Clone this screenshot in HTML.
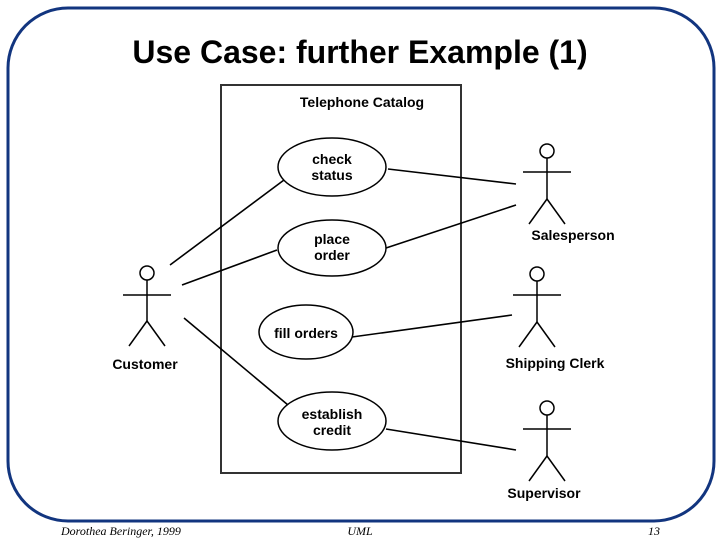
<!DOCTYPE html>
<html><head><style>body{margin:0;background:#fff}</style></head><body>
<svg width="720" height="540" xmlns="http://www.w3.org/2000/svg" font-family="Liberation Sans, sans-serif">
<rect x="8" y="8" width="706" height="513" rx="60" fill="none" stroke="#12357f" stroke-width="3"/>
<text x="360" y="63" font-size="32" font-weight="bold" text-anchor="middle" fill="#000">Use Case: further Example (1)</text>
<rect x="221" y="85" width="240" height="388" fill="none" stroke="#333" stroke-width="2"/>
<text x="362" y="107" font-size="14" font-weight="bold" text-anchor="middle">Telephone Catalog</text>
<g fill="#fff" stroke="#000" stroke-width="1.5">
<ellipse cx="332" cy="167" rx="54" ry="29"/>
<ellipse cx="332" cy="248" rx="54" ry="28"/>
<ellipse cx="306" cy="332" rx="47" ry="27"/>
<ellipse cx="332" cy="421" rx="54" ry="29"/>
</g>
<g font-size="14" font-weight="bold" text-anchor="middle">
<text x="332" y="164">check</text><text x="332" y="180">status</text>
<text x="332" y="244">place</text><text x="332" y="260">order</text>
<text x="306" y="338">fill orders</text>
<text x="332" y="419">establish</text><text x="332" y="435">credit</text>
</g>
<g stroke="#000" stroke-width="1.6" fill="none">
<line x1="170" y1="265" x2="284" y2="180"/>
<line x1="182" y1="285" x2="277" y2="250"/>
<line x1="184" y1="318" x2="288" y2="405"/>
<line x1="388" y1="169" x2="516" y2="184"/>
<line x1="386" y1="248" x2="516" y2="205"/>
<line x1="352" y1="337" x2="512" y2="315"/>
<line x1="386" y1="429" x2="516" y2="450"/>
</g>
<g stroke="#000" stroke-width="1.5" fill="#fff">
<g transform="translate(147,273)"><circle cx="0" cy="0" r="7"/><line x1="-24" y1="22" x2="24" y2="22"/><line x1="0" y1="7" x2="0" y2="48"/><line x1="0" y1="48" x2="-18" y2="73"/><line x1="0" y1="48" x2="18" y2="73"/></g>
<g transform="translate(547,151)"><circle cx="0" cy="0" r="7"/><line x1="-24" y1="21" x2="24" y2="21"/><line x1="0" y1="7" x2="0" y2="48"/><line x1="0" y1="48" x2="-18" y2="73"/><line x1="0" y1="48" x2="18" y2="73"/></g>
<g transform="translate(537,274)"><circle cx="0" cy="0" r="7"/><line x1="-24" y1="21" x2="24" y2="21"/><line x1="0" y1="7" x2="0" y2="48"/><line x1="0" y1="48" x2="-18" y2="73"/><line x1="0" y1="48" x2="18" y2="73"/></g>
<g transform="translate(547,408)"><circle cx="0" cy="0" r="7"/><line x1="-24" y1="21" x2="24" y2="21"/><line x1="0" y1="7" x2="0" y2="48"/><line x1="0" y1="48" x2="-18" y2="73"/><line x1="0" y1="48" x2="18" y2="73"/></g>
</g>
<g font-size="14" font-weight="bold" text-anchor="middle">
<text x="145" y="369">Customer</text>
<text x="573" y="240">Salesperson</text>
<text x="555" y="368">Shipping Clerk</text>
<text x="544" y="498">Supervisor</text>
</g>
<g font-family="Liberation Serif, serif" font-style="italic" font-size="12">
<text x="61" y="535">Dorothea Beringer, 1999</text>
<text x="360" y="535" text-anchor="middle">UML</text>
<text x="648" y="535">13</text>
</g>
</svg>
</body></html>
